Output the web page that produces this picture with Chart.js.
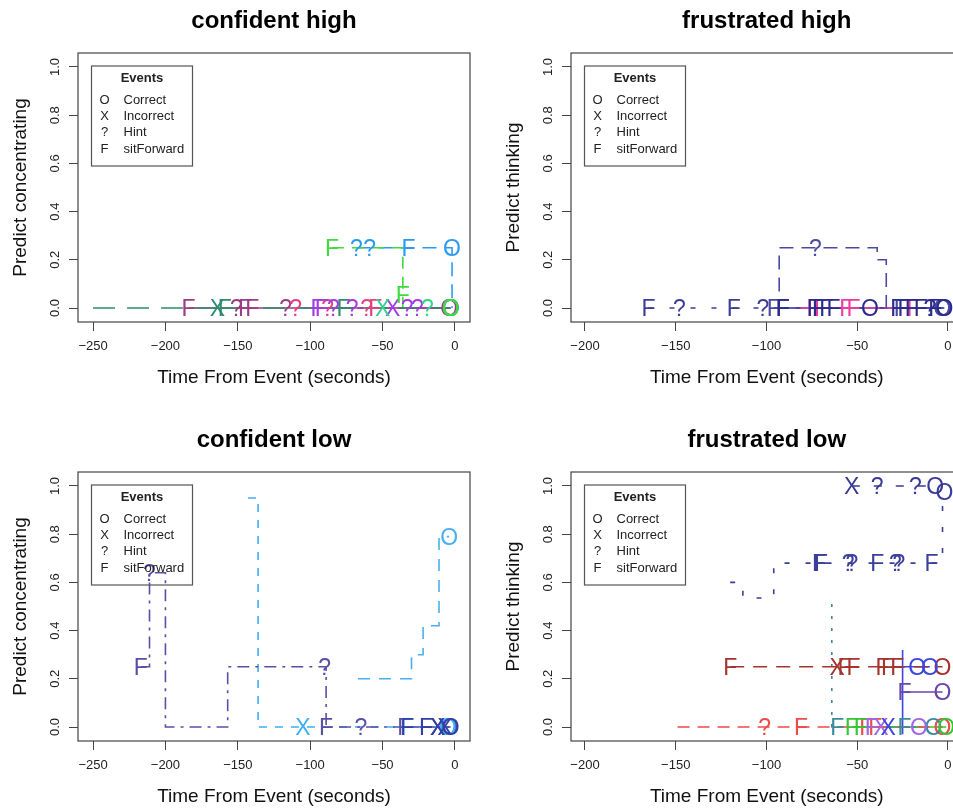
<!DOCTYPE html>
<html>
<head>
<meta charset="utf-8">
<script src="https://cdn.jsdelivr.net/npm/chart.js@4.4.0/dist/chart.umd.min.js"></script>
<style>
html, body { margin: 0; padding: 0; background: #fff; width: 953px; height: 810px; overflow: hidden; }
.panel { position: absolute; }
</style>
</head>
<body>
<div class="panel" style="left:0;top:0"><canvas id="c1" width="476" height="405"></canvas></div>
<div class="panel" style="left:480px;top:0"><canvas id="c2" width="490" height="405"></canvas></div>
<div class="panel" style="left:0;top:420px"><canvas id="c3" width="476" height="390"></canvas></div>
<div class="panel" style="left:480px;top:420px"><canvas id="c4" width="490" height="390"></canvas></div>
<script>
// each point: [seconds from event, predicted value, event letter ('' = none)]
// confident high
const chTeal   = [[-250,0,''],[-164,0,'X'],[-159,0,'F'],[-77,0,'F'],[-3,0,'O']];
const chPlum   = [[-184,0,'F'],[-151,0,'?'],[-145,0,'F'],[-140,0,'F'],[-117,0,'?'],[-4,0,'O']];
const chPink   = [[-110,0,'?'],[-88,0,'?'],[-61,0,'?'],[-55,0,'F'],[-3,0,'O']];
const chViolet = [[-95,0,'F'],[-92,0,'F'],[-84,0,'?'],[-71,0,'?'],[-43,0,'X'],[-33,0,'?'],[-26,0,'?'],[-3,0,'O']];
const chSpring = [[-50,0,'X'],[-19,0,'?'],[-3,0,'O']];
const chGreen  = [[-85,0.25,'F'],[-36,0.054,'F'],[-36,0,''],[-3,0,'O']];
const chBlue   = [[-68,0.25,'?'],[-59,0.25,'?'],[-32,0.25,'F'],[-2,0.25,'O'],[-2,0,'']];

// frustrated high
const fhNavyA  = [[-165,0,'F'],[-148,0,'?'],[-118,0,'F'],[-102,0,'?'],[-91,0,'F'],[-3,0,'O']];
const fhNavyB  = [[-96,0,'F'],[-93,0.25,''],[-73,0.25,'?'],[-39,0.2,''],[-34,0,''],[-26,0,'F'],[-3,0,'O']];
const fhPink   = [[-83,0,''],[-74,0,'F'],[-70,0,'F'],[-56,0,'F'],[-52,0,'F'],[-19,0,'F']];
const fhDark   = [[-91,0,'F'],[-74,0,'F'],[-71,0,'F'],[-67,0,'F'],[-63,0,'F'],[-43,0,'O'],[-28,0,'F'],[-24,0,'F'],[-20,0,'F'],[-15,0,'F'],[-10,0,'?'],[-7,0,'F'],[-2,0,'O']];

// confident low
const clSlate  = [[-217,0.25,'F'],[-211,0.64,'?'],[-200,0,''],[-157,0.25,''],[-90,0.25,'?'],[-89,0,'F'],[-65,0,'?'],[-35,0,'F'],[-12,0,'X'],[-4,0,'O']];
const clSkyA   = [[-143,0.95,''],[-136,0,''],[-105,0,'X'],[-33,0,'F'],[-5,0,'O']];
const clSkyB   = [[-67,0.2,''],[-30,0.3,''],[-22,0.42,''],[-11,0.79,''],[-4,0.79,'O']];
const clNavy   = [[-33,0,'F'],[-20,0,'F'],[-12,0,'X'],[-7,0,'X'],[-3,0,'O']];

// frustrated low
const flNavyA  = [[-120,0.6,''],[-113,0.535,''],[-96,0.68,''],[-71,0.68,'F'],[-70,0.68,'F'],[-55,0.68,'?'],[-53,0.68,'?'],[-39,0.68,'F'],[-29,0.68,'?'],[-27,0.68,'?'],[-9,0.68,'F'],[-3,0.97,''],[-2,0.975,'O']];
const flNavyB  = [[-53,1,'X'],[-39,1,'?'],[-18,1,'?'],[-7,1,'O']];
const flBrown  = [[-120,0.25,'F'],[-61,0.25,'X'],[-57,0.25,'F'],[-52,0.25,'F'],[-36,0.25,'F'],[-33,0.25,'F'],[-28,0.25,'F'],[-3,0.25,'O']];
const flBlue   = [[-33,0,'X'],[-25,-0.03,''],[-25,0.32,''],[-25,0.25,''],[-17,0.25,'O'],[-10,0.25,'O']];
const flPurple = [[-24,0.145,'F'],[-3,0.145,'O']];
const flRed    = [[-149,0,''],[-101,0,'?'],[-81,0,'F'],[-45,0,'F'],[-40,0,'F'],[-3,0,'O']];
const flTeal   = [[-64,0.51,''],[-64,0,''],[-61,0,'F'],[-24,0,'F'],[-8,0,'O']];
const flGreen  = [[-53,0,'F'],[-48,0,'F'],[-1,0,'O']];
const flViolet = [[-42,0,'F'],[-37,0,'X'],[-16,0,'O']];

const xTicksWide = [-250, -200, -150, -100, -50, 0];
const xTicksNarrow = [-200, -150, -100, -50, 0];
const yTicks = [0, 0.2, 0.4, 0.6, 0.8, 1.0];
const yTickLabels = ['0.0', '0.2', '0.4', '0.6', '0.8', '1.0'];
const legendSyms = ['O', 'X', '?', 'F'];
const legendNames = ['Correct', 'Incorrect', 'Hint', 'sitForward'];

const FONT = '"Liberation Sans", Arial, Helvetica, sans-serif';

// box, rotated y labels, titles and the "Events" legend, R style
const rFrame = {
    id: 'rFrame',
    afterDraw(chart, args, o) {
        const { ctx, chartArea: a, scales } = chart;
        const cx = (a.left + a.right) / 2;
        ctx.save();
        ctx.strokeStyle = '#444';
        ctx.lineWidth = 1.2;
        ctx.strokeRect(a.left, a.top, a.right - a.left, a.bottom - a.top);

        ctx.fillStyle = '#222';
        ctx.textAlign = 'center';
        ctx.textBaseline = 'middle';
        ctx.font = '13px ' + FONT;
        scales.y.ticks.forEach((t, i) => {
            ctx.save();
            ctx.translate(a.left - 23, scales.y.getPixelForValue(t.value));
            ctx.rotate(-Math.PI / 2);
            ctx.fillText(yTickLabels[i], 0, 0);
            ctx.restore();
        });

        ctx.fillStyle = '#111';
        ctx.font = '19px ' + FONT;
        ctx.fillText(o.xlab, cx, a.bottom + 56);
        ctx.save();
        ctx.translate(a.left - 57, (a.top + a.bottom) / 2);
        ctx.rotate(-Math.PI / 2);
        ctx.fillText(o.ylab, 0, 0);
        ctx.restore();

        ctx.fillStyle = '#000';
        ctx.font = 'bold 24px ' + FONT;
        ctx.fillText(o.title, cx, a.top - 32);

        // legend
        const lx = a.left + 13.5, ly = a.top + 13, lw = 101, lh = 100;
        ctx.strokeStyle = '#555';
        ctx.lineWidth = 1.2;
        ctx.strokeRect(lx, ly, lw, lh);
        ctx.fillStyle = '#222';
        ctx.font = 'bold 13px ' + FONT;
        ctx.fillText('Events', lx + lw / 2, ly + 12);
        ctx.font = '13px ' + FONT;
        legendSyms.forEach((s, i) => {
            const y = ly + 34 + i * 16.4;
            ctx.textAlign = 'center';
            ctx.fillText(s, lx + 13, y);
            ctx.textAlign = 'left';
            ctx.fillText(legendNames[i], lx + 32, y);
        });
        ctx.restore();
    }
};

// event letters at each data point
const eventMarks = {
    id: 'eventMarks',
    afterDatasetsDraw(chart) {
        const { ctx, chartArea: a } = chart;
        ctx.save();
        ctx.beginPath();
        ctx.rect(a.left, a.top, a.right - a.left, a.bottom - a.top);
        ctx.clip();
        ctx.font = '23px ' + FONT;
        ctx.textAlign = 'center';
        ctx.textBaseline = 'alphabetic';
        chart.data.datasets.forEach((ds, i) => {
            const meta = chart.getDatasetMeta(i);
            ctx.fillStyle = ds.borderColor;
            meta.data.forEach((pt, j) => {
                const m = ds.marks[j];
                if (m) ctx.fillText(m, pt.x, pt.y + 8.2);
            });
        });
        ctx.restore();
    }
};

function makePanel(id, cfg) {
    const tickGrid = { display: true, drawOnChartArea: false, drawTicks: true, tickLength: 9, color: '#444', lineWidth: 1 };
    new Chart(document.getElementById(id), {
        type: 'line',
        data: {
            datasets: cfg.series.map(s => ({
                data: s.pts.map(p => ({ x: p[0], y: p[1] })),
                marks: s.pts.map(p => p[2]),
                borderColor: s.color,
                borderDash: s.dash,
                borderWidth: 1.6,
                stepped: 'before',   // R type="s": across first, then up/down
                pointRadius: 0,
                fill: false
            }))
        },
        options: {
            responsive: false,
            animation: false,
            events: [],
            layout: { padding: { left: 0, top: cfg.top, right: cfg.right, bottom: 0 } },
            scales: {
                x: {
                    type: 'linear',
                    min: cfg.xmin,
                    max: cfg.xmax,
                    afterBuildTicks: sc => { sc.ticks = cfg.xTicks.map(v => ({ value: v })); },
                    afterFit: sc => { sc.height = cfg.xh; },
                    grid: tickGrid,
                    border: { display: false },
                    ticks: {
                        autoSkip: false,
                        maxRotation: 0,
                        padding: 8,
                        color: '#222',
                        font: { family: FONT, size: 13 },
                        callback: v => (v < 0 ? '\u2212' + Math.abs(v) : String(v))
                    }
                },
                y: {
                    type: 'linear',
                    min: -0.058,
                    max: 1.058,
                    afterBuildTicks: sc => { sc.ticks = yTicks.map(v => ({ value: v })); },
                    afterFit: sc => { sc.width = cfg.yw; },
                    grid: tickGrid,
                    border: { display: false },
                    ticks: { display: false }
                }
            },
            plugins: {
                legend: { display: false },
                tooltip: { enabled: false },
                rFrame: { title: cfg.title, xlab: 'Time From Event (seconds)', ylab: cfg.ylab }
            }
        },
        plugins: [rFrame, eventMarks]
    });
}

makePanel('c1', {
    title: 'confident high', ylab: 'Predict concentrating',
    xmin: -260.4, xmax: 10.4, xTicks: xTicksWide, top: 53, right: 6, yw: 78, xh: 83,
    series: [
        { pts: chTeal, color: '#2E8C70', dash: [22, 12] },
        { pts: chPlum, color: '#9A3C86', dash: [] },
        { pts: chPink, color: '#E8407E', dash: [3, 5] },
        { pts: chViolet, color: '#A23BE8', dash: [6, 4] },
        { pts: chSpring, color: '#2ED68A', dash: [3, 5] },
        { pts: chGreen, color: '#3EDC3E', dash: [12, 8] },
        { pts: chBlue, color: '#2A9AF0', dash: [14, 8] }
    ]
});

makePanel('c2', {
    title: 'frustrated high', ylab: 'Predict thinking',
    xmin: -207.7, xmax: 8, xTicks: xTicksNarrow, top: 53, right: 7.5, yw: 91, xh: 83,
    series: [
        { pts: fhNavyA, color: '#3D3D99', dash: [5, 16] },
        { pts: fhNavyB, color: '#4A4AA0', dash: [14, 8] },
        { pts: fhPink, color: '#F03CA0', dash: [] },
        { pts: fhDark, color: '#2B2B8C', dash: [] }
    ]
});

makePanel('c3', {
    title: 'confident low', ylab: 'Predict concentrating',
    xmin: -260.4, xmax: 10.4, xTicks: xTicksWide, top: 52, right: 6, yw: 78, xh: 69,
    series: [
        { pts: clSlate, color: '#5A4FA6', dash: [12, 6, 3, 6] },
        { pts: clSkyA, color: '#3DAEF2', dash: [8, 8] },
        { pts: clSkyB, color: '#4AB0F0', dash: [12, 9] },
        { pts: clNavy, color: '#3040A8', dash: [] }
    ]
});

makePanel('c4', {
    title: 'frustrated low', ylab: 'Predict thinking',
    xmin: -207.7, xmax: 8, xTicks: xTicksNarrow, top: 52, right: 7.5, yw: 91, xh: 69,
    series: [
        { pts: flNavyA, color: '#3B3F9C', dash: [5, 16] },
        { pts: flNavyB, color: '#3A3A96', dash: [8, 14] },
        { pts: flBrown, color: '#A5332E', dash: [14, 9] },
        { pts: flRed, color: '#F04A48', dash: [12, 8] },
        { pts: flTeal, color: '#3A8C9C', dash: [3, 9] },
        { pts: flGreen, color: '#34C634', dash: [] },
        { pts: flViolet, color: '#A066E6', dash: [6, 4] },
        { pts: flPurple, color: '#6B44B0', dash: [] },
        { pts: flBlue, color: '#3C46E0', dash: [] }
    ]
});
</script>
</body>
</html>
